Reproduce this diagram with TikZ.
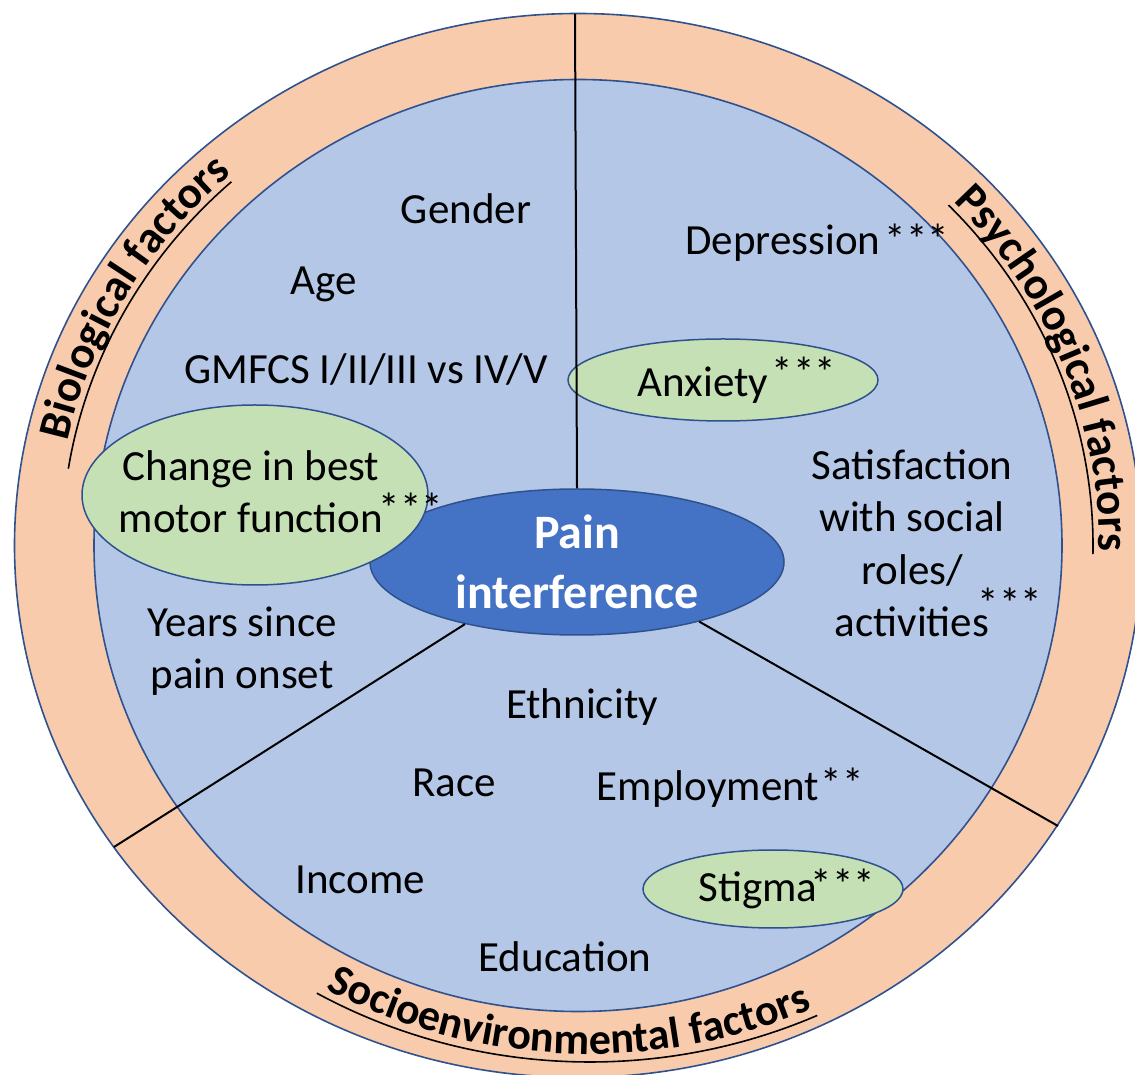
\documentclass[tikz,border=0pt]{standalone}
\usepackage{fontspec}
\setmainfont{Carlito}
\usetikzlibrary{shapes.geometric,decorations.text}
\definecolor{peach}{HTML}{F8CBAD}
\definecolor{paleblue}{HTML}{B4C7E7}
\definecolor{palegreen}{HTML}{C5E0B4}
\definecolor{darkblue}{HTML}{4472C4}
\definecolor{bord}{HTML}{2F528F}
\begin{document}
\begin{tikzpicture}[x=1pt,y=1pt,
  lbl/.style={anchor=base, inner sep=0pt, align=center, font=\fontsize{43}{52.5}\selectfont},
  stars/.style={anchor=base, inner sep=0pt, font=\fontsize{43}{52}\selectfont},
  bubble/.style={shape=ellipse, draw=bord, line width=1.5pt, fill=palegreen, inner sep=0pt},
  divider/.style={draw=black, line width=2pt},
  uline/.style={draw=black, line width=1.6pt},
  ringtext/.style={decorate, decoration={text along path, text align=center, text={#1}}}
]
\useasboundingbox (0,0) rectangle (1135,1074);
\coordinate (C) at (578,528.5);
\coordinate (S) at (590,529);
% rings
\filldraw[fill=peach, draw=bord, line width=1.6pt] (C) ellipse [x radius=563.5pt, y radius=532pt];
\filldraw[fill=paleblue, draw=bord, line width=1.6pt] (C) ellipse [x radius=484pt, y radius=466pt];

% ring labels
\path[ringtext={|\bfseries\fontsize{45}{54}\selectfont|Biological factors}]
  ([shift={(185:522pt and 497pt)}]C) arc[start angle=185, end angle=115, x radius=522pt, y radius=497pt];
\draw[uline] ([shift={(171:516pt and 491pt)}]C) arc[start angle=171, end angle=132.2, x radius=516pt, y radius=491pt];

\path[ringtext={|\bfseries\fontsize{45}{54}\selectfont|Psychological factors}]
  ([shift={(56.5:521pt and 496pt)}]C) arc[start angle=56.5, end angle=-13.5, x radius=521pt, y radius=496pt];
\draw[uline] ([shift={(44:515pt and 490pt)}]C) arc[start angle=44, end angle=-1, x radius=515pt, y radius=490pt];

\path[ringtext={|\bfseries\fontsize{44}{52}\selectfont|Socioenvironmental factors}]
  ([shift={(228:540pt and 509pt)}]S) arc[start angle=228, end angle=307, x radius=540pt, y radius=509pt];
\draw[uline] ([shift={(240.1:548pt and 517pt)}]S) arc[start angle=240.1, end angle=294.5, x radius=548pt, y radius=517pt];

% central ellipse
\node[shape=ellipse, fill=darkblue, draw=bord, line width=1.5pt, minimum width=414pt, minimum height=146pt,
  inner sep=0pt, text=white, align=center, font=\bfseries\fontsize{48}{60}\selectfont] (pain) at (577,512) {Pain\\interference};

% green bubbles
\node[bubble, minimum width=346pt, minimum height=180pt] (chg) at (255,579) {};
\node[bubble, minimum width=310pt, minimum height=82pt] (anx) at (723,694) {};
\node[bubble, minimum width=260pt, minimum height=78pt] (stg) at (773,185) {};

% dividers
\coordinate (tA) at (575,1060);
\coordinate (tB) at (114,227);
\coordinate (tC) at (1058,248);
\draw[divider] (tA) -- (pain.north);
\draw[divider] (tB) -- (pain.209);
\draw[divider] (tC) -- (pain.334);

% texts (base anchor = baseline of the last line)
\node[lbl] (gender) at (466,850) {Gender};
\node[lbl] (age) at (324,779) {Age};
\node[lbl] (gmfcs) at (366,690) {GMFCS I/II/III vs IV/V};
\node[lbl] (change) at (251,541) {Change in best\\motor function};
\node[stars] (s1) at (411,550) {***};
\node[lbl] (years) at (242,385) {Years since\\pain onset};
\node[lbl] (depr) at (783,819) {Depression};
\node[stars] (s2) at (917,819) {***};
\node[lbl] (anxt) at (703,677) {Anxiety};
\node[stars] (s3) at (804,686) {***};
\node[lbl] (satis) at (912,437) {Satisfaction\\with social\\roles/\\activities};
\node[stars] (s4) at (1010,455) {***};
\node[lbl] (eth) at (582,355) {Ethnicity};
\node[lbl] (race) at (454,277) {Race};
\node[lbl] (empl) at (708,273) {Employment};
\node[stars] (s5) at (842,275) {**};
\node[lbl] (income) at (360,180) {Income};
\node[lbl] (stigt) at (758,172) {Stigma};
\node[stars] (s6) at (843,175) {***};
\node[lbl] (edu) at (565,103) {Education};
\end{tikzpicture}
\end{document}
